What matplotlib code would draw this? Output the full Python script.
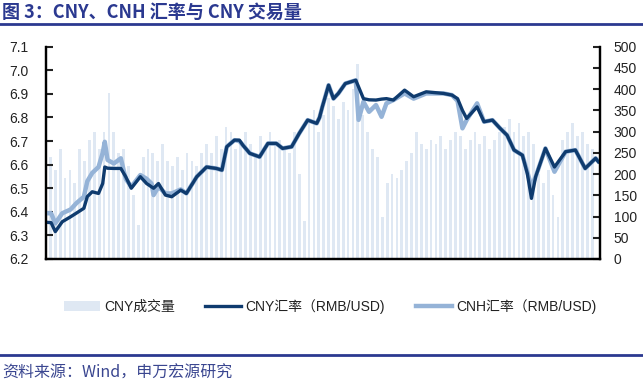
import pandas as pd
import numpy as np
import matplotlib
matplotlib.use('Agg')
import matplotlib.pyplot as plt
import matplotlib.dates as mdates
from matplotlib.lines import Line2D

plt.rcParams['font.family'] = ['Liberation Sans', 'Noto Sans CJK SC']

# exchange rates
rate_dates = ['2015-10-01', '2015-10-09', '2015-10-15', '2015-10-25', '2015-11-06', '2015-11-14',
              '2015-11-25', '2015-11-30', '2015-12-07', '2015-12-16', '2015-12-22', '2015-12-25',
              '2015-12-29', '2016-01-07', '2016-01-17', '2016-01-24', '2016-02-01', '2016-02-14',
              '2016-02-23', '2016-03-01', '2016-03-04', '2016-03-11', '2016-03-21', '2016-03-30',
              '2016-04-12', '2016-04-20', '2016-05-05', '2016-05-19', '2016-06-02', '2016-06-10',
              '2016-06-17', '2016-06-28', '2016-07-05', '2016-07-10', '2016-07-20', '2016-08-03',
              '2016-08-15', '2016-08-27', '2016-09-05', '2016-09-18', '2016-09-29', '2016-10-11',
              '2016-10-24', '2016-10-28', '2016-11-01', '2016-11-10', '2016-11-17', '2016-11-24',
              '2016-12-04', '2016-12-19', '2016-12-23', '2016-12-30', '2017-01-07', '2017-01-17',
              '2017-01-25', '2017-02-01', '2017-02-11', '2017-02-27', '2017-03-12', '2017-03-30',
              '2017-04-24', '2017-05-06', '2017-05-14', '2017-05-21', '2017-05-27', '2017-06-11',
              '2017-06-21', '2017-07-03', '2017-07-14', '2017-07-24', '2017-08-03', '2017-08-15',
              '2017-08-22', '2017-08-28', '2017-09-03', '2017-09-17', '2017-09-30', '2017-10-16',
              '2017-10-30', '2017-11-13', '2017-11-28', '2017-12-02']
cny = [6.356, 6.354, 6.316, 6.358, 6.379, 6.394,
       6.415, 6.465, 6.485, 6.478, 6.520, 6.590,
       6.585, 6.584, 6.584, 6.549, 6.500, 6.549,
       6.520, 6.506, 6.500, 6.520, 6.471, 6.464,
       6.492, 6.478, 6.549, 6.590, 6.584, 6.577,
       6.676, 6.704, 6.704, 6.683, 6.648, 6.633,
       6.690, 6.690, 6.669, 6.676, 6.733, 6.789,
       6.775, 6.800, 6.845, 6.937, 6.880, 6.902,
       6.944, 6.958, 6.930, 6.880, 6.875, 6.874,
       6.878, 6.880, 6.874, 6.916, 6.888, 6.909,
       6.902, 6.895, 6.880, 6.830, 6.796, 6.845,
       6.782, 6.789, 6.754, 6.725, 6.662, 6.640,
       6.563, 6.457, 6.549, 6.669, 6.590, 6.655,
       6.662, 6.584, 6.627, 6.612]
cnh = [6.394, 6.394, 6.351, 6.394, 6.410, 6.436,
       6.464, 6.530, 6.565, 6.590, 6.650, 6.697,
       6.620, 6.605, 6.627, 6.540, 6.506, 6.556,
       6.540, 6.520, 6.471, 6.506, 6.478, 6.478,
       6.495, 6.478, 6.549, 6.590, 6.584, 6.577,
       6.676, 6.704, 6.700, 6.683, 6.648, 6.633,
       6.690, 6.690, 6.669, 6.676, 6.733, 6.789,
       6.775, 6.800, 6.845, 6.937, 6.880, 6.902,
       6.944, 6.958, 6.790, 6.867, 6.824, 6.853,
       6.803, 6.860, 6.874, 6.902, 6.880, 6.902,
       6.902, 6.895, 6.870, 6.754, 6.789, 6.860,
       6.782, 6.789, 6.754, 6.725, 6.662, 6.640,
       6.570, 6.506, 6.549, 6.669, 6.570, 6.655,
       6.662, 6.584, 6.627, 6.615]

# weekly CNY turnover (right axis)
vol_start = '2015-10-01'
vol = [150, 240, 210, 260, 190, 210, 180, 260, 230, 280,
       300, 260, 300, 390, 300, 250, 260, 220, 150, 80,
       240, 260, 250, 230, 270, 230, 220, 240, 210, 250,
       230, 220, 250, 270, 250, 290, 260, 310, 300, 260,
       280, 300, 270, 250, 290, 260, 300, 270, 280, 260,
       250, 300, 200, 90, 330, 350, 300, 340, 380, 360,
       330, 370, 350, 400, 460, 340, 300, 260, 240, 100,
       180, 200, 190, 210, 230, 250, 300, 270, 260, 280,
       270, 290, 260, 280, 300, 290, 260, 280, 300, 270,
       290, 260, 280, 300, 310, 330, 300, 320, 290, 300,
       270, 200, 180, 210, 150, 100, 280, 300, 320, 290,
       300, 270, 260]

yticks_left = [6.2, 6.3, 6.4, 6.5, 6.6, 6.7, 6.8, 6.9, 7.0, 7.1]
yticks_right = [0, 50, 100, 150, 200, 250, 300, 350, 400, 450, 500]

rate_dates = pd.to_datetime(rate_dates)
vol_dates = pd.date_range(vol_start, periods=len(vol), freq='7D')

navy = '#2b3990'
fig = plt.figure(figsize=(6.43, 3.88), dpi=100)
ax2 = fig.add_axes([0.0708, 0.3325, 0.862, 0.547])
ax = ax2.twinx()
ax.yaxis.tick_left()
ax2.yaxis.tick_right()
ax2.set_zorder(1)
ax.set_zorder(2)
ax.patch.set_visible(False)

bars = ax2.bar(vol_dates, vol, width=4, color='#dfe8f3', linewidth=0, label='CNY成交量')
l2, = ax.plot(rate_dates, cnh, color='#95b3d7', lw=3.2, label='CNH汇率（RMB/USD)', solid_joinstyle='round')
l1, = ax.plot(rate_dates, cny, color='#0f3b6e', lw=2.4, label='CNY汇率（RMB/USD)', solid_joinstyle='round')

ax.set_ylim(6.2, 7.1)
ax.set_yticks(yticks_left)
ax.set_yticklabels([f'{v:.1f}' for v in yticks_left])
ax2.set_ylim(0, 500)
ax2.set_yticks(yticks_right)
ax.set_xlim(pd.Timestamp('2015-10-01'), pd.Timestamp('2017-12-04'))

ax.xaxis.set_major_locator(mdates.MonthLocator(bymonth=[1, 4, 7, 10]))
ax.xaxis.set_minor_locator(mdates.MonthLocator())
ax.xaxis.set_major_formatter(mdates.DateFormatter('%y-%m'))

for a in (ax, ax2):
    a.spines['top'].set_visible(False)
    for s in ('left', 'right', 'bottom'):
        a.spines[s].set_linewidth(1.6)
        a.spines[s].set_color('black')
ax.tick_params(axis='y', direction='in', length=5, width=1.5, pad=12, labelsize=10, colors='#222222')
ax2.tick_params(axis='y', direction='in', length=5, width=1.5, pad=10, labelsize=10, colors='#222222')
ax.tick_params(axis='x', which='major', direction='inout', length=8, width=1.6, pad=6, labelsize=10, colors='#222222')
ax.tick_params(axis='x', which='minor', direction='inout', length=5, width=1.2)
ax2.tick_params(axis='x', which='both', bottom=False, labelbottom=False)

fig.legend([bars, l1, l2], ['CNY成交量', 'CNY汇率（RMB/USD)', 'CNH汇率（RMB/USD)'],
           loc='center', bbox_to_anchor=(0.513, 0.211), ncol=3, frameon=False,
           fontsize=10, handlelength=2.6, handletextpad=0.3, columnspacing=2.2,
           labelcolor='#222222')

fig.text(0.003, 0.967, '图 3：CNY、CNH 汇率与 CNY 交易量', fontsize=13, fontweight='bold',
         color=navy, family=['Noto Sans CJK SC'], va='center', ha='left')
fig.add_artist(Line2D([0, 1], [0.938, 0.938], transform=fig.transFigure, color=navy, lw=2))
fig.add_artist(Line2D([0, 1], [0.085, 0.085], transform=fig.transFigure, color=navy, lw=2))
fig.text(0.003, 0.039, '资料来源：Wind，申万宏源研究', fontsize=11.5, color='#3a4690',
         family=['Noto Sans CJK SC'], va='center', ha='left')

fig.savefig('out.png', dpi=100)
